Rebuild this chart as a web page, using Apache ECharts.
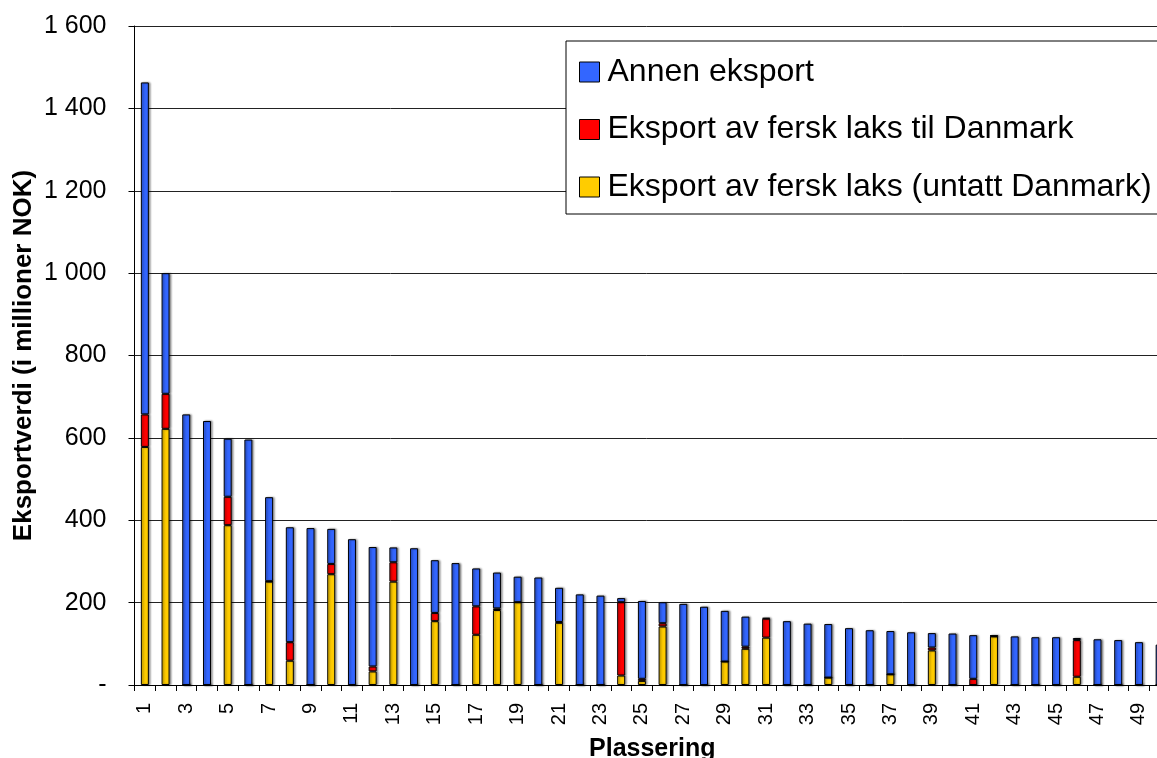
<!DOCTYPE html>
<html>
<head>
<meta charset="utf-8">
<script src="https://cdn.jsdelivr.net/npm/echarts@6/dist/echarts.min.js"></script>
<style>
html,body{margin:0;padding:0;background:#fff;}
#chart{width:1157px;height:758px;}
</style>
</head>
<body>
<div id="chart"></div>
<script>
const categories = ['1','2','3','4','5','6','7','8','9','10','11','12','13','14','15','16','17','18','19','20','21','22','23','24','25','26','27','28','29','30','31','32','33','34','35','36','37','38','39','40','41','42','43','44','45','46','47','48','49','50'];
const seriesNames = ['Annen eksport','Eksport av fersk laks til Danmark','Eksport av fersk laks (untatt Danmark)'];
const laksUtenDK = [578,622,0,0,388,0,251,59,0,269,0,33,251,0,155,0,122,182,201,0,151,0,0,23,10,142,0,0,57,88,115,0,0,18,0,0,26,0,84,0,0,118,0,0,0,20,0,0,0,0];
const laksDK =     [79,85,0,0,69,0,1,45,0,25,0,12,47,0,20,0,69,4,0,0,2,0,0,178,5,8,0,0,0,5,46,0,0,0,0,0,0,0,7,0,15,1,0,0,0,89,0,0,0,0];
const annen =      [806,293,657,641,141,596,204,279,381,85,354,290,36,332,128,296,92,87,62,261,83,220,217,10,189,51,197,190,123,73,2,155,149,130,138,133,105,128,35,125,106,1,118,116,116,5,111,109,104,98];
const yTicks = [0,200,400,600,800,1000,1200,1400,1600];

const colors = {annen:'#3366FF', dk:'#FF0000', uten:'#FFCC00'};
const font = '"Liberation Sans", Arial, sans-serif';

function barSeries(name, data, color){
  return {
    name: name, type:'bar', stack:'total', data: data,
    barWidth: 8,
    itemStyle:{color: color, borderColor:'#000', borderWidth:1,
      shadowColor:'rgba(0,0,0,0.4)', shadowBlur:2, shadowOffsetX:1.5, shadowOffsetY:0},
    emphasis:{disabled:true}
  };
}

const chart = echarts.init(document.getElementById('chart'), null, {renderer:'canvas'});
chart.setOption({
  animation:false,
  backgroundColor:'#fff',
  grid:{left:134.5, right:-13, top:26, bottom:73, containLabel:false, outerBoundsMode:'none'},
  legend:{
    data: seriesNames,
    orient:'vertical', left:566, top:41,
    padding:[15,30,11,13],
    itemWidth:20, itemHeight:20, itemGap:25.5,
    icon:'rect',
    itemStyle:{borderColor:'#000', borderWidth:1, shadowBlur:0, shadowColor:'transparent'},
    backgroundColor:'#fff',
    borderColor:'#000', borderWidth:1,
    textStyle:{fontFamily:font, fontSize:32, color:'#000', lineHeight:30, padding:[0,0,0,3]},
    selectedMode:false
  },
  xAxis:{
    type:'category', data: categories,
    name:'Plassering', nameLocation:'middle', nameGap:52, nameMoveOverlap:false,
    nameTextStyle:{fontFamily:font, fontSize:25, fontWeight:'bold', color:'#000'},
    axisLine:{lineStyle:{color:'#000', width:1}},
    axisTick:{show:true, alignWithLabel:false, interval:0, length:6, lineStyle:{color:'#000'}},
    axisLabel:{interval:1, rotate:90, margin:18, fontFamily:font, fontSize:20, color:'#000', hideOverlap:false},
    splitLine:{show:false}
  },
  yAxis:{
    type:'value', min:0, max:1600, interval:200,
    name:'Eksportverdi (i millioner NOK)', nameLocation:'middle', nameGap:98, nameMoveOverlap:false,
    nameTextStyle:{fontFamily:font, fontSize:26, fontWeight:'bold', color:'#000'},
    axisLine:{show:true, lineStyle:{color:'#000', width:1}},
    axisTick:{show:true, length:6, lineStyle:{color:'#000'}},
    axisLabel:{margin:28, fontFamily:font, fontSize:25, color:'#000',
      formatter:function(v){ if(v===0) return '-'; return String(v).replace(/\B(?=(\d{3})+(?!\d))/g,' '); }},
    splitLine:{show:true, lineStyle:{color:'#222', width:1}}
  },
  series:[
    barSeries(seriesNames[2], laksUtenDK, colors.uten),
    barSeries(seriesNames[1], laksDK, colors.dk),
    barSeries(seriesNames[0], annen, colors.annen)
  ]
});
</script>
</body>
</html>
